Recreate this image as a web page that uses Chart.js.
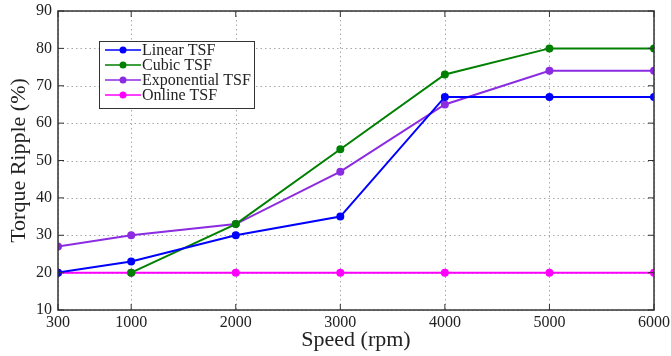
<!DOCTYPE html>
<html><head><meta charset="utf-8">
<script src="https://cdn.jsdelivr.net/npm/chart.js@4"></script>
<style>html,body{margin:0;padding:0;background:#fff}#wrap{width:671px;height:356px}</style>
</head><body><div id="wrap"><canvas id="c" width="671" height="356"></canvas></div>
<script>
const speeds = [300, 1000, 2000, 3000, 4000, 5000, 6000];
const linearTSF = [20, 23, 30, 35, 67, 67, 67];
const cubicTSF = [null, 20, 33, 53, 73, 80, 80];
const exponentialTSF = [27, 30, 33, 47, 65, 74, 74];
const onlineTSF = [20, 20, 20, 20, 20, 20, 20];
const xTicks = [300, 1000, 2000, 3000, 4000, 5000, 6000];
const yTicks = [10, 20, 30, 40, 50, 60, 70, 80, 90];
const seriesNames = ['Linear TSF', 'Cubic TSF', 'Exponential TSF', 'Online TSF'];
const seriesColors = ['#0000ff', '#008000', '#8b2be2', '#ff00ff'];
const seriesValues = [linearTSF, cubicTSF, exponentialTSF, onlineTSF];

const FONT = '"Liberation Serif", "DejaVu Serif", serif';

const datasets = seriesValues.map((vals, i) => ({
  label: seriesNames[i],
  data: speeds.map((s, j) => vals[j] === null ? null : {x: s, y: vals[j]}).filter(p => p),
  borderColor: seriesColors[i],
  backgroundColor: seriesColors[i],
  borderWidth: 2,
  pointRadius: 3,
  pointHoverRadius: 3,
  tension: 0
}));

const framePlugin = {
  id: 'frame',
  beforeDatasetsDraw(chart) {
    const {ctx, chartArea: a, scales} = chart;
    ctx.save();
    ctx.strokeStyle = '#a8a8a8';
    ctx.lineWidth = 1;
    ctx.setLineDash([1.5, 3]);
    xTicks.forEach(v => {
      const x = Math.round(scales.x.getPixelForValue(v)) + 0.5;
      ctx.beginPath(); ctx.moveTo(x, a.top); ctx.lineTo(x, a.bottom); ctx.stroke();
    });
    yTicks.forEach(v => {
      const y = Math.round(scales.y.getPixelForValue(v)) + 0.5;
      ctx.beginPath(); ctx.moveTo(a.left, y); ctx.lineTo(a.right, y); ctx.stroke();
    });
    ctx.restore();
  },
  afterDatasetsDraw(chart) {
    const {ctx, chartArea: a, scales} = chart;
    ctx.save();
    ctx.strokeStyle = '#333';
    ctx.lineWidth = 1.5;
    ctx.strokeRect(a.left, a.top, a.right - a.left, a.bottom - a.top);
    ctx.lineWidth = 1;
    const tl = 6;
    xTicks.forEach(v => {
      const x = scales.x.getPixelForValue(v);
      ctx.beginPath();
      ctx.moveTo(x, a.bottom); ctx.lineTo(x, a.bottom - tl);
      ctx.moveTo(x, a.top); ctx.lineTo(x, a.top + tl);
      ctx.stroke();
    });
    yTicks.forEach(v => {
      const y = scales.y.getPixelForValue(v);
      ctx.beginPath();
      ctx.moveTo(a.left, y); ctx.lineTo(a.left + tl, y);
      ctx.moveTo(a.right, y); ctx.lineTo(a.right - tl, y);
      ctx.stroke();
    });
    // legend
    const lx = 99, ly = 41, lw = 155, lh = 67;
    ctx.fillStyle = '#fff';
    ctx.fillRect(lx, ly, lw, lh);
    ctx.strokeStyle = '#333';
    ctx.lineWidth = 1;
    ctx.strokeRect(lx + 0.5, ly + 0.5, lw, lh);
    ctx.font = '16px ' + FONT;
    ctx.textBaseline = 'middle';
    chart.data.datasets.forEach((ds, i) => {
      const y = ly + 9 + i * 15;
      ctx.strokeStyle = ds.borderColor;
      ctx.lineWidth = 1.5;
      ctx.beginPath(); ctx.moveTo(lx + 6, y); ctx.lineTo(lx + 42, y); ctx.stroke();
      ctx.fillStyle = ds.borderColor;
      ctx.beginPath(); ctx.arc(lx + 24, y, 3.5, 0, Math.PI * 2); ctx.fill();
      ctx.fillStyle = '#222';
      ctx.fillText(ds.label, lx + 43, y + 1);
    });
    ctx.restore();
  }
};

new Chart(document.getElementById('c'), {
  type: 'line',
  data: {datasets},
  options: {
    responsive: false,
    animation: false,
    events: [],
    layout: {padding: {left: 0, right: 17, top: 11, bottom: 0}},
    plugins: {legend: {display: false}, tooltip: {enabled: false}},
    scales: {
      x: {
        type: 'linear',
        min: 300, max: 6000,
        afterBuildTicks(s) { s.ticks = xTicks.map(v => ({value: v})); },
        afterFit(s) { s.height = 46; s.paddingLeft = 0; s.paddingRight = 0; },
        grid: {display: false, drawTicks: false, tickLength: 0},
        border: {display: false},
        ticks: {color: '#222', font: {family: FONT, size: 16}, padding: 3, maxRotation: 0, autoSkip: false,
                callback: v => String(v)},
        title: {display: true, text: 'Speed (rpm)', color: '#222', font: {family: FONT, size: 22}, padding: {top: 0, bottom: 3}}
      },
      y: {
        min: 10, max: 90,
        afterBuildTicks(s) { s.ticks = yTicks.map(v => ({value: v})); },
        afterFit(s) { s.width = 58; s.paddingTop = 0; s.paddingBottom = 0; },
        grid: {display: false, drawTicks: false, tickLength: 0},
        border: {display: false},
        ticks: {color: '#222', font: {family: FONT, size: 16}, padding: 6, callback: v => String(v)},
        title: {display: true, text: 'Torque Ripple (%)', color: '#222', font: {family: FONT, size: 22}, padding: {top: 6, bottom: 2}}
      }
    }
  },
  plugins: [framePlugin]
});
</script>
</body></html>
